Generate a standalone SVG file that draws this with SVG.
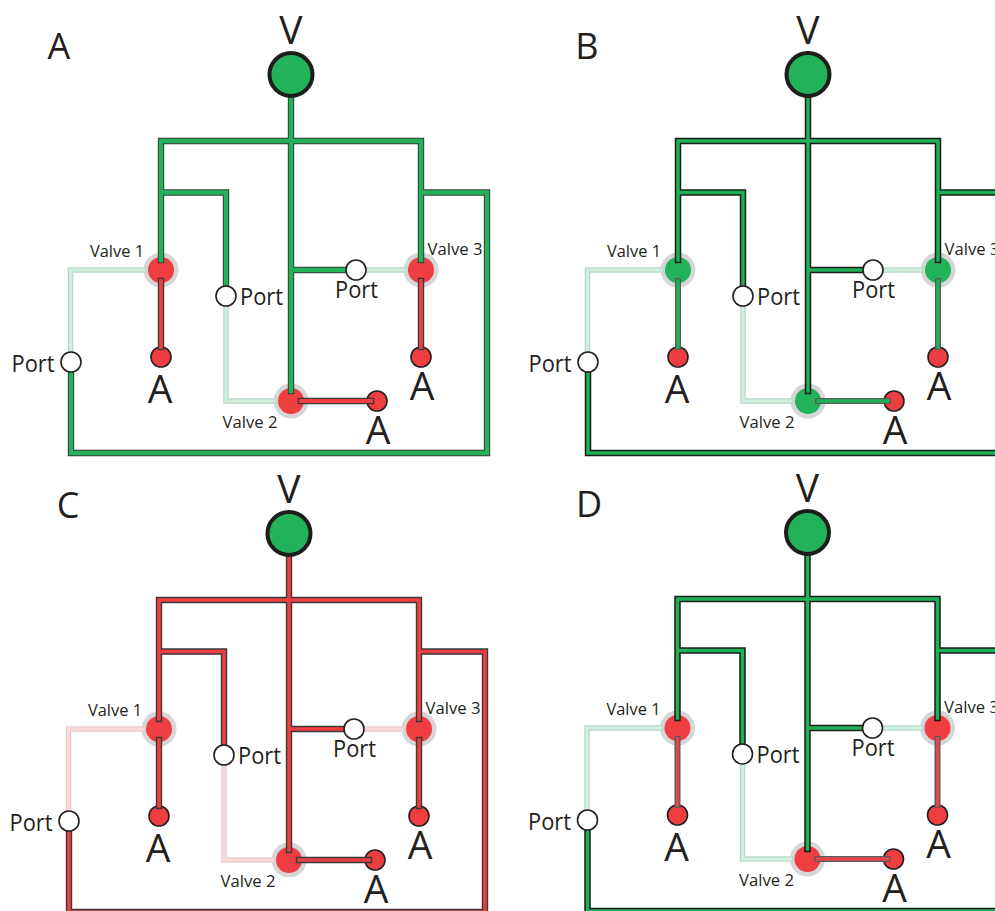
<svg xmlns="http://www.w3.org/2000/svg" width="995" height="911" viewBox="0 0 995 911">
<style>
text{font-family:"Open Sans","Noto Sans","Liberation Sans",sans-serif;fill:#231f20;text-anchor:middle}
.title{font-size:36px}.big{font-size:39px}.port{font-size:23.5px}.valve{font-size:15.5px}
.pipe{fill:none;stroke-linecap:square;stroke-linejoin:miter}
.case{stroke:#3a3a3a;stroke-width:6.4}
.caseT{stroke:#1d1d1b;stroke-width:6.5}
.caseM{stroke:#5a5a5a;stroke-width:6}
.g{stroke:#22b25a;stroke-width:4.4}
.gT{stroke:#1fb158;stroke-width:3.4}
.r{stroke:#ef3e42;stroke-width:3.8}
.rT{stroke:#ef3e42;stroke-width:3.6}
.rM{stroke:#e5484b;stroke-width:3.4}
.lgc{stroke:#b9d6c6;stroke-width:5.5}
.lg{stroke:#d3efe0;stroke-width:3}
.lrc{stroke:#e6cccc;stroke-width:5.5}
.lr{stroke:#f9d9d9;stroke-width:3}
.halo{fill:#d6d6d6}
.vr{fill:#ef3e42}.vg{fill:#22b25a}
.outlet{fill:#ef3e42;stroke:#231f20;stroke-width:1.6}
.portn{fill:#fff;stroke:#231f20;stroke-width:1.6}
.src{fill:#22b25a;stroke:#1d1d1b;stroke-width:4}
</style>
<defs>
<path id="supply" d="M291 97V141M291 141V391M161 260V141H421V260M161 192.5H226V286M421 192.5H487V453H71V372M291 270H346"/>
<path id="drain" d="M161 281V347M421 281V347M301 401H371"/>
<path id="vent" d="M144 270H70.5V352M226 306V401H274M366 270H404"/>
</defs>

<g id="panel-a">
<text class="title" x="59" y="59">A</text>
<g id="a-valve-1"><circle class="halo" cx="161" cy="270" r="17.5"/><circle class="vr" cx="161" cy="270" r="13"/><text class="valve" x="117" y="257" textLength="54" lengthAdjust="spacingAndGlyphs">Valve 1</text></g>
<g id="a-valve-2"><circle class="halo" cx="291" cy="401" r="17.5"/><circle class="vr" cx="291" cy="401" r="13"/><text class="valve" x="250" y="428" textLength="55" lengthAdjust="spacingAndGlyphs">Valve 2</text></g>
<g id="a-valve-3"><circle class="halo" cx="421" cy="270" r="17.5"/><circle class="vr" cx="421" cy="270" r="13"/><text class="valve" x="455" y="255" textLength="55" lengthAdjust="spacingAndGlyphs">Valve 3</text></g>
<g id="a-outlet-1"><circle class="outlet" cx="161" cy="357" r="10"/><text class="big" x="160" y="403">A</text></g>
<g id="a-outlet-2"><circle class="outlet" cx="377" cy="401" r="10"/><text class="big" x="378" y="444">A</text></g>
<g id="a-outlet-3"><circle class="outlet" cx="421" cy="357" r="10"/><text class="big" x="422" y="400">A</text></g>
<g id="a-connectors" class="pipe">
<use href="#vent" class="lgc"/><use href="#vent" class="lg"/>
<use href="#supply" class="case"/><use href="#drain" class="case"/>
<use href="#supply" class="g"/><use href="#drain" class="r"/>
</g>
<g id="a-port-1"><circle class="portn" cx="71" cy="362" r="10"/><text class="port" x="33" y="372" textLength="43" lengthAdjust="spacingAndGlyphs">Port</text></g>
<g id="a-port-2"><circle class="portn" cx="226" cy="296" r="10"/><text class="port" x="261.500" y="305" textLength="43" lengthAdjust="spacingAndGlyphs">Port</text></g>
<g id="a-port-3"><circle class="portn" cx="356" cy="270" r="10"/><text class="port" x="356.500" y="298" textLength="43" lengthAdjust="spacingAndGlyphs">Port</text></g>
<g id="a-source"><circle class="src" cx="291" cy="74.5" r="21.5"/><text class="big" x="291" y="44">V</text></g>
</g>

<g id="panel-b">
<text class="title" x="587" y="59">B</text>
<g transform="translate(517 0)">
<g id="b-valve-1"><circle class="halo" cx="161" cy="270" r="17.5"/><circle class="vg" cx="161" cy="270" r="13"/><text class="valve" x="117" y="257" textLength="54" lengthAdjust="spacingAndGlyphs">Valve 1</text></g>
<g id="b-valve-2"><circle class="halo" cx="291" cy="401" r="17.5"/><circle class="vg" cx="291" cy="401" r="13"/><text class="valve" x="250" y="428" textLength="55" lengthAdjust="spacingAndGlyphs">Valve 2</text></g>
<g id="b-valve-3"><circle class="halo" cx="421" cy="270" r="17.5"/><circle class="vg" cx="421" cy="270" r="13"/><text class="valve" x="455" y="255" textLength="55" lengthAdjust="spacingAndGlyphs">Valve 3</text></g>
<g id="b-outlet-1"><circle class="outlet" cx="161" cy="357" r="10"/><text class="big" x="160" y="403">A</text></g>
<g id="b-outlet-2"><circle class="outlet" cx="377" cy="401" r="10"/><text class="big" x="378" y="444">A</text></g>
<g id="b-outlet-3"><circle class="outlet" cx="421" cy="357" r="10"/><text class="big" x="422" y="400">A</text></g>
<g id="b-connectors" class="pipe">
<use href="#vent" class="lgc"/><use href="#vent" class="lg"/>
<use href="#supply" class="caseT"/><use href="#drain" class="caseM"/>
<use href="#supply" class="gT"/><use href="#drain" class="gT"/>
</g>
<g id="b-port-1"><circle class="portn" cx="71" cy="362" r="10"/><text class="port" x="33" y="372" textLength="43" lengthAdjust="spacingAndGlyphs">Port</text></g>
<g id="b-port-2"><circle class="portn" cx="226" cy="296" r="10"/><text class="port" x="261.500" y="305" textLength="43" lengthAdjust="spacingAndGlyphs">Port</text></g>
<g id="b-port-3"><circle class="portn" cx="356" cy="270" r="10"/><text class="port" x="356.500" y="298" textLength="43" lengthAdjust="spacingAndGlyphs">Port</text></g>
<g id="b-source"><circle class="src" cx="291" cy="74.5" r="21.5"/><text class="big" x="291" y="44">V</text></g>
</g>
</g>

<g id="panel-c">
<text class="title" x="68" y="518">C</text>
<g transform="translate(-2 459)">
<g id="c-valve-1"><circle class="halo" cx="161" cy="270" r="17.5"/><circle class="vr" cx="161" cy="270" r="13"/><text class="valve" x="117" y="257" textLength="54" lengthAdjust="spacingAndGlyphs">Valve 1</text></g>
<g id="c-valve-2"><circle class="halo" cx="291" cy="401" r="17.5"/><circle class="vr" cx="291" cy="401" r="13"/><text class="valve" x="250" y="428" textLength="55" lengthAdjust="spacingAndGlyphs">Valve 2</text></g>
<g id="c-valve-3"><circle class="halo" cx="421" cy="270" r="17.5"/><circle class="vr" cx="421" cy="270" r="13"/><text class="valve" x="455" y="255" textLength="55" lengthAdjust="spacingAndGlyphs">Valve 3</text></g>
<g id="c-outlet-1"><circle class="outlet" cx="161" cy="357" r="10"/><text class="big" x="160" y="403">A</text></g>
<g id="c-outlet-2"><circle class="outlet" cx="377" cy="401" r="10"/><text class="big" x="378" y="444">A</text></g>
<g id="c-outlet-3"><circle class="outlet" cx="421" cy="357" r="10"/><text class="big" x="422" y="400">A</text></g>
<g id="c-connectors" class="pipe">
<use href="#vent" class="lrc"/><use href="#vent" class="lr"/>
<use href="#supply" class="case"/><use href="#drain" class="case"/>
<use href="#supply" class="rT"/><use href="#drain" class="rT"/>
</g>
<g id="c-port-1"><circle class="portn" cx="71" cy="362" r="10"/><text class="port" x="33" y="372" textLength="43" lengthAdjust="spacingAndGlyphs">Port</text></g>
<g id="c-port-2"><circle class="portn" cx="226" cy="296" r="10"/><text class="port" x="261.500" y="305" textLength="43" lengthAdjust="spacingAndGlyphs">Port</text></g>
<g id="c-port-3"><circle class="portn" cx="356" cy="270" r="10"/><text class="port" x="356.500" y="298" textLength="43" lengthAdjust="spacingAndGlyphs">Port</text></g>
<g id="c-source"><circle class="src" cx="291" cy="74.5" r="21.5"/><text class="big" x="291" y="44">V</text></g>
</g>
</g>

<g id="panel-d">
<text class="title" x="589" y="517">D</text>
<g transform="translate(516.5 458)">
<g id="d-valve-1"><circle class="halo" cx="161" cy="270" r="17.5"/><circle class="vr" cx="161" cy="270" r="13"/><text class="valve" x="117" y="257" textLength="54" lengthAdjust="spacingAndGlyphs">Valve 1</text></g>
<g id="d-valve-2"><circle class="halo" cx="291" cy="401" r="17.5"/><circle class="vr" cx="291" cy="401" r="13"/><text class="valve" x="250" y="428" textLength="55" lengthAdjust="spacingAndGlyphs">Valve 2</text></g>
<g id="d-valve-3"><circle class="halo" cx="421" cy="270" r="17.5"/><circle class="vr" cx="421" cy="270" r="13"/><text class="valve" x="455" y="255" textLength="55" lengthAdjust="spacingAndGlyphs">Valve 3</text></g>
<g id="d-outlet-1"><circle class="outlet" cx="161" cy="357" r="10"/><text class="big" x="160" y="403">A</text></g>
<g id="d-outlet-2"><circle class="outlet" cx="377" cy="401" r="10"/><text class="big" x="378" y="444">A</text></g>
<g id="d-outlet-3"><circle class="outlet" cx="421" cy="357" r="10"/><text class="big" x="422" y="400">A</text></g>
<g id="d-connectors" class="pipe">
<use href="#vent" class="lgc"/><use href="#vent" class="lg"/>
<use href="#supply" class="caseT"/><use href="#drain" class="caseM"/>
<use href="#supply" class="gT"/><use href="#drain" class="rM"/>
</g>
<g id="d-port-1"><circle class="portn" cx="71" cy="362" r="10"/><text class="port" x="33" y="372" textLength="43" lengthAdjust="spacingAndGlyphs">Port</text></g>
<g id="d-port-2"><circle class="portn" cx="226" cy="296" r="10"/><text class="port" x="261.500" y="305" textLength="43" lengthAdjust="spacingAndGlyphs">Port</text></g>
<g id="d-port-3"><circle class="portn" cx="356" cy="270" r="10"/><text class="port" x="356.500" y="298" textLength="43" lengthAdjust="spacingAndGlyphs">Port</text></g>
<g id="d-source"><circle class="src" cx="291" cy="74.5" r="21.5"/><text class="big" x="291" y="44">V</text></g>
</g>
</g>
</svg>
